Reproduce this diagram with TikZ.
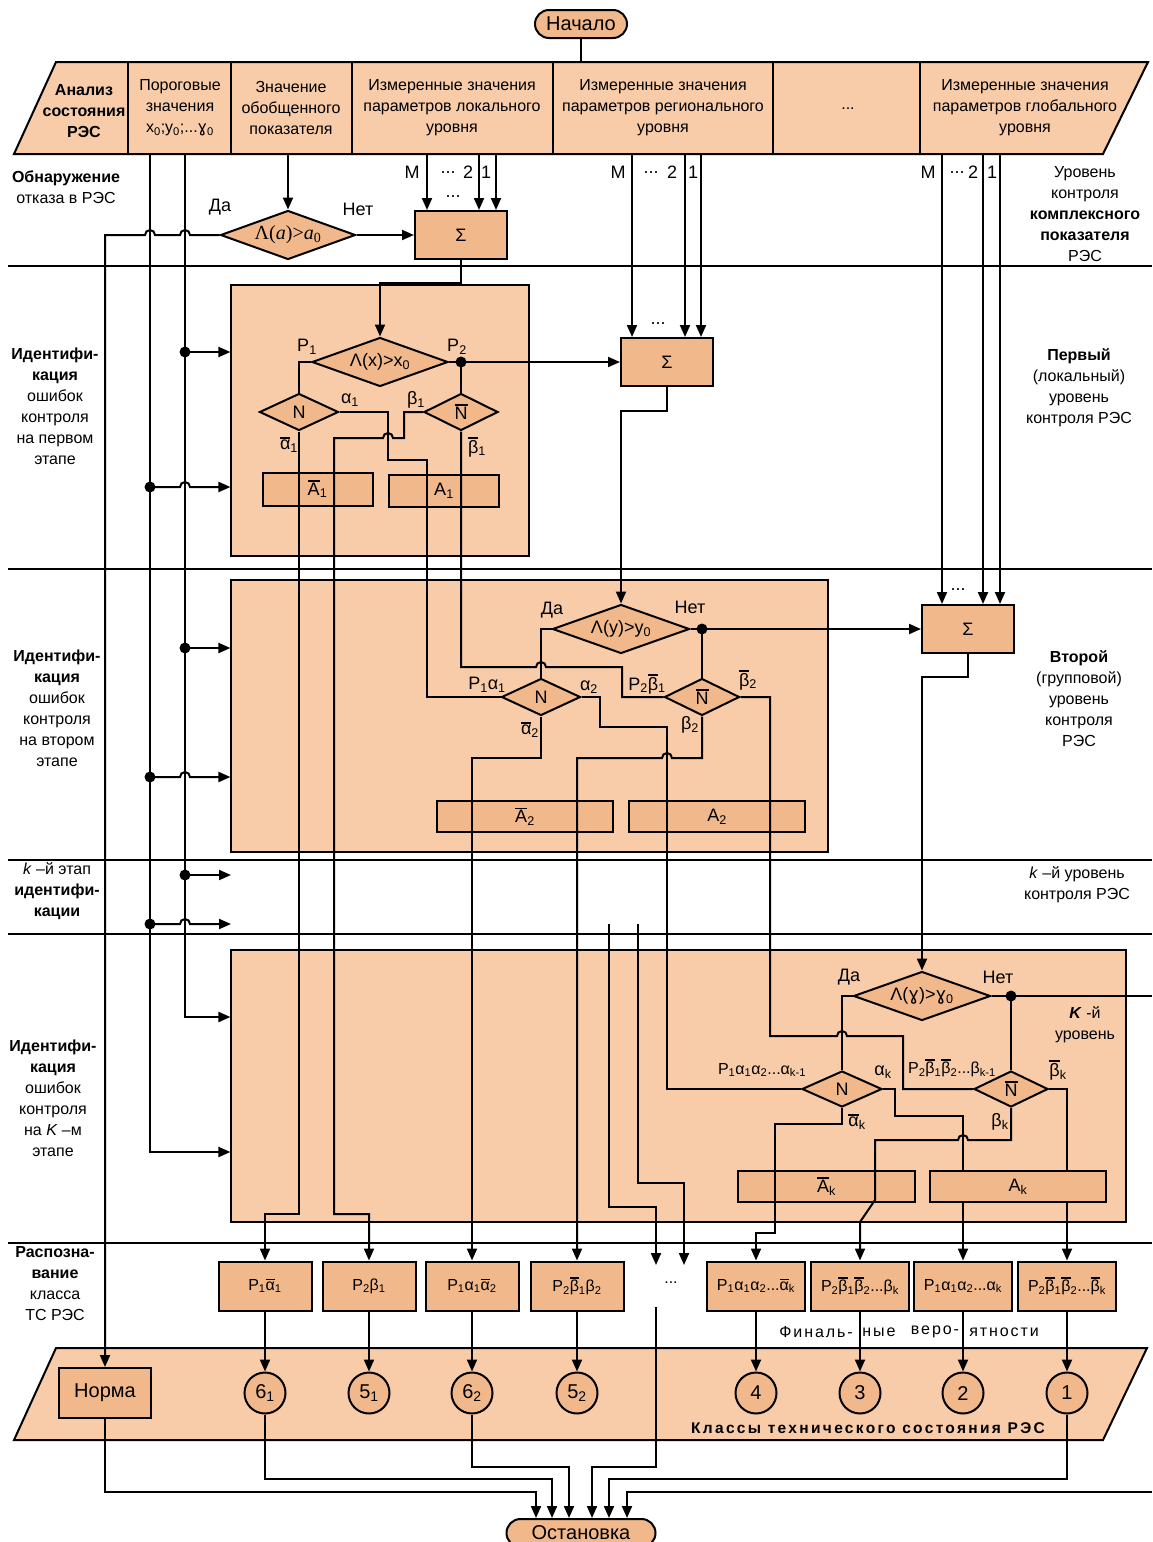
\documentclass[tikz,border=0pt]{standalone}
\usepackage{fontspec}
\setmainfont{Liberation Sans}
\newfontfamily\serifface{Liberation Serif}
\newfontfamily\gamface{DejaVu Sans}
\usetikzlibrary{shapes.geometric,arrows.meta}
\definecolor{paleor}{RGB}{248,204,168}
\definecolor{deepor}{RGB}{241,184,139}
\newcommand\sbs[1]{\textsubscript{#1}}
\newcommand\ovb[1]{\vbox{\hrule height 1.4pt\kern 1.3pt\hbox{#1}}}
\newcommand\lgam{{\gamface ɣ}}
\newcommand\fsz[2]{\fontsize{#1}{#2}\selectfont}
\begin{document}
\begin{tikzpicture}[x=1pt,y=-1pt,
  wire/.style={line width=2pt},
  arr/.style={line width=2pt,-{Triangle[length=12pt,width=10pt]}},
  darkbox/.style={draw,line width=2pt,fill=deepor,inner sep=0pt},
  panel/.style={draw,line width=1.1pt,fill=paleor,inner sep=0pt},
  rhomb/.style={diamond,draw,line width=2pt,fill=deepor,inner sep=0pt,aspect=2.8,font=\fsz{18}{20}},
  jdot/.style={circle,fill=black,inner sep=0pt,minimum size=11pt},
  sepline/.style={line width=1.1pt},
  txt/.style={inner sep=0pt,align=center,font=\fsz{16}{21}},
  plab/.style={inner sep=0pt,font=\fsz{18}{20}},
  slab/.style={inner sep=0pt,font=\fsz{16}{18}},
  term/.style={draw,line width=2pt,fill=deepor,rounded corners=14pt,inner sep=0pt,minimum height=28pt,font=\fsz{20}{22}},
  circ/.style={circle,draw,line width=2pt,fill=deepor,minimum size=41pt,inner sep=0pt,font=\fsz{20}{22}},
  rbox/.style={darkbox,minimum height=49pt,font=\fsz{16}{18}},
  abox/.style={darkbox,minimum height=31pt,font=\fsz{18}{20}},
  sbox/.style={darkbox,minimum width=92pt,minimum height=48pt,font=\fsz{18}{20}}
]
\useasboundingbox (0,0) rectangle (1152,1542);

% ---------- band separators ----------
\foreach \yy in {266,569,860,934,1243} \draw[sepline] (8,\yy) -- (1152,\yy);

% ---------- input data band ----------
\draw[line width=2pt,fill=paleor] (56,62) -- (1148,62) -- (1103,154) -- (14,154) -- cycle;
\foreach \xx in {128,231,352,553,773,920} \draw[line width=2pt] (\xx,62) -- (\xx,154);
\node[txt] (h0) at (84,111) {\textbf{Анализ}\\\textbf{состояния}\\\textbf{РЭС}};
\node[txt] (h1) at (180,108) {Пороговые\\значения\\x\sbs{0};y\sbs{0};...\lgam\sbs{0}};
\node[txt] (h2) at (291,108) {Значение\\обобщенного\\показателя};
\node[txt] (h3) at (452,108) {Измеренные значения\\параметров локального\\уровня};
\node[txt] (h4) at (663,108) {Измеренные значения\\параметров регионального\\уровня};
\node[txt] (h5) at (848,109) {...};
\node[txt] (h6) at (1025,108) {Измеренные значения\\параметров глобального\\уровня};

% ---------- classes band ----------
\draw[line width=2pt,fill=paleor] (56,1348) -- (1147,1348) -- (1103,1440) -- (14,1440) -- cycle;

% ---------- stage panels ----------
\node[panel,minimum width=298pt,minimum height=271pt] (st1) at (380,420.5) {};
\node[panel,minimum width=597pt,minimum height=272pt] (st2) at (529.5,716) {};
\node[panel,minimum width=895pt,minimum height=272pt] (stK) at (678.5,1086) {};

% ---------- side captions ----------
\node[txt] (cl1) at (66,187) {\textbf{Обнаружение}\\отказа в РЭС};
\node[txt] (cl2) at (55,406) {\textbf{Идентифи-}\\\textbf{кация}\\ошибок\\контроля\\на первом\\этапе};
\node[txt] (cl3) at (57,708) {\textbf{Идентифи-}\\\textbf{кация}\\ошибок\\контроля\\на втором\\этапе};
\node[txt] (cl4) at (57,891) {\textit{k} –й этап\\\textbf{идентифи-}\\\textbf{кации}};
\node[txt] (cl5) at (53,1098) {\textbf{Идентифи-}\\\textbf{кация}\\ошибок\\контроля\\на \textit{K} –м\\этапе};
\node[txt] (cl6) at (55,1284) {\textbf{Распозна-}\\\textbf{вание}\\класса\\ТС РЭС};
\node[txt] (cr1) at (1085,214) {Уровень\\контроля\\\textbf{комплексного}\\\textbf{показателя}\\РЭС};
\node[txt] (cr2) at (1079,388) {\textbf{Первый}\\(локальный)\\уровень\\контроля РЭС};
\node[txt] (cr3) at (1079,699) {\textbf{Второй}\\(групповой)\\уровень\\контроля\\РЭС};
\node[txt] (cr4) at (1077,885) {\textit{k} –й уровень\\контроля РЭС};
\node[txt] (cr5) at (1085,1025) {\textbf{\textit{K}} -й\\уровень};

% ---------- decision outcome boxes (under the wires) ----------
\node[abox,minimum width=110pt,minimum height=33pt] (a1b) at (317.5,489) {\ovb{A}\sbs{1}};
\node[abox,minimum width=110pt,minimum height=32pt] (a1) at (444,491) {A\sbs{1}};
\node[abox,minimum width=176pt] (a2b) at (525,816.5) {\ovb{A}\sbs{2}};
\node[abox,minimum width=176pt] (a2) at (717,816.5) {A\sbs{2}};
\node[abox,minimum width=177pt] (aKb) at (826.5,1186.5) {\ovb{A}\sbs{k}};

% ---------- terminals, adders, rhombs, result boxes ----------
\node[term,minimum width=92pt] (start) at (581,24) {Начало};
\node[term,minimum width=149pt] (stop) at (581,1533) {Остановка};
\node[sbox] (s1) at (461,235) {Σ};
\node[sbox] (s2) at (667,362) {Σ};
\node[sbox] (s3) at (968,629) {Σ};
\node[rhomb,minimum width=135pt,minimum height=49pt,font=\fsz{20}{22}] (d0) at (288,235) {\serifface Λ(\textit{a})>\textit{a}\sbs{0}};
\node[rhomb,minimum width=136pt,minimum height=49pt] (d1) at (380,362) {Λ(x)>x\sbs{0}};
\node[rhomb,minimum width=79pt,minimum height=37pt] (n1) at (299,412) {N};
\node[rhomb,minimum width=74pt,minimum height=37pt] (nb1) at (461,412) {\ovb{N}};
\node[rhomb,minimum width=137pt,minimum height=49pt] (d2) at (621,629) {Λ(y)>y\sbs{0}};
\node[rhomb,minimum width=79pt,minimum height=37pt] (n2) at (541,697) {N};
\node[rhomb,minimum width=75pt,minimum height=37pt] (nb2) at (702,697) {\ovb{N}};
\node[rhomb,minimum width=137pt,minimum height=49pt] (dK) at (922,996) {Λ(\lgam)>\lgam\sbs{0}};
\node[rhomb,minimum width=80pt,minimum height=36pt] (nK) at (842,1089) {N};
\node[rhomb,minimum width=74pt,minimum height=36pt] (nbK) at (1011,1089) {\ovb{N}};
\node[darkbox,minimum width=92pt,minimum height=50pt,font=\fsz{20}{22}] (norma) at (105,1393) {Норма};

\node[rbox,minimum width=93pt] (r1) at (265,1286) {P\sbs{1}\ovb{α}\sbs{1}};
\node[rbox,minimum width=93pt] (r2) at (369,1286) {P\sbs{2}β\sbs{1}};
\node[rbox,minimum width=93pt] (r3) at (472,1286) {P\sbs{1}α\sbs{1}\ovb{α}\sbs{2}};
\node[rbox,minimum width=93pt] (r4) at (577,1286) {P\sbs{2}\ovb{β}\sbs{1}β\sbs{2}};
\node[slab] (rdots) at (671,1283) {...};
\node[rbox,minimum width=98pt] (r5) at (756,1286) {P\sbs{1}α\sbs{1}α\sbs{2}...\ovb{α}\sbs{k}};
\node[rbox,minimum width=98pt] (r6) at (860,1286) {P\sbs{2}\ovb{β}\sbs{1}\ovb{β}\sbs{2}...β\sbs{k}};
\node[rbox,minimum width=98pt] (r7) at (963,1286) {P\sbs{1}α\sbs{1}α\sbs{2}...α\sbs{k}};
\node[rbox,minimum width=98pt] (r8) at (1067,1286) {P\sbs{2}\ovb{β}\sbs{1}\ovb{β}\sbs{2}...\ovb{β}\sbs{k}};

\node[circ] (c61) at (265,1393) {6\sbs{1}};
\node[circ] (c51) at (369,1393) {5\sbs{1}};
\node[circ] (c62) at (472,1393) {6\sbs{2}};
\node[circ] (c52) at (577,1393) {5\sbs{2}};
\node[circ] (c4) at (756,1393) {4};
\node[circ] (c3) at (860,1393) {3};
\node[circ] (c2) at (963,1393) {2};
\node[circ] (c1) at (1067,1393) {1};

\node[slab,font=\fsz{16}{18}\addfontfeature{LetterSpace=12}] (f1) at (816,1332) {Финаль-};
\node[slab,font=\fsz{16}{18}\addfontfeature{LetterSpace=12}] (f2) at (879,1332) {ные};
\node[slab,font=\fsz{16}{18}\addfontfeature{LetterSpace=12}] (f3) at (935,1332) {веро-};
\node[slab,font=\fsz{16}{18}\addfontfeature{LetterSpace=12}] (f4) at (1004,1332) {ятности};
\node[slab,font=\bfseries\fsz{15.5}{18}\addfontfeature{LetterSpace=15}] (cls) at (868,1428) {Классы технического состояния РЭС};

% ---------- tap points ----------
\coordinate (hN) at (581,62);
\coordinate (tG) at (288,154);
\coordinate (kA) at (231,875);
\coordinate (kB) at (231,924);
\coordinate (kC) at (609,924);
\coordinate (kD) at (638,924);
\coordinate (kE) at (656,1265);
\coordinate (kF) at (684,1265);
\coordinate (kG) at (656,1307);
\coordinate (outK) at (1152,996);
\coordinate (inR) at (1152,1492);

% ---------- wires: header ----------
\draw[wire] (start.south) -- (hN);
\draw[arr] (tG) -- (d0.north);
\draw[arr] (d0.east) -- (s1.west);
\draw[arr] (d0.west) -- (190,235) arc[start angle=0,end angle=-180,radius=5] -- (155,235) arc[start angle=0,end angle=-180,radius=5] -- (105,235) -- (norma.north);
\foreach \xx in {427,479,496} \draw[arr] (\xx,154) -- (\xx,0 |- s1.north);
\foreach \xx in {632,685,701} \draw[arr] (\xx,154) -- (\xx,0 |- s2.north);
\foreach \xx in {942,983,1000} \draw[arr] (\xx,154) -- (\xx,0 |- s3.north);
\node[plab] (m1) at (412,172) {M};
\node[plab] (e1) at (448,173) {...};
\node[plab] (t1) at (468,172) {2};
\node[plab] (o1) at (486,172) {1};
\node[plab] (u1) at (453,197) {...};
\node[plab] (m2) at (618,172) {M};
\node[plab] (e2) at (651,173) {...};
\node[plab] (t2) at (672,172) {2};
\node[plab] (o2) at (693,172) {1};
\node[plab] (u2) at (658,324) {...};
\node[plab] (m3) at (928,172) {M};
\node[plab] (e3) at (957,173) {...};
\node[plab] (t3) at (973,172) {2};
\node[plab] (o3) at (992,172) {1};
\node[plab] (u3) at (958,590) {...};

% ---------- threshold rails ----------
\draw[arr] (185,154) -- (185,1017) -- (stK.west |- 185,1017);
\draw[arr] (150,154) -- (150,1152) -- (stK.west |- 150,1152);
\node[jdot] (j1) at (185,352) {};
\node[jdot] (j2) at (150,487) {};
\node[jdot] (j3) at (185,648) {};
\node[jdot] (j4) at (150,777) {};
\node[jdot] (j5) at (185,875) {};
\node[jdot] (j6) at (150,924) {};
\draw[arr] (j1.center) -- (j1.center -| st1.west);
\draw[arr] (j2.center) -- (180,487) arc[start angle=180,end angle=360,radius=5] -- (j2.center -| st1.west);
\draw[arr] (j3.center) -- (j3.center -| st2.west);
\draw[arr] (j4.center) -- (180,777) arc[start angle=180,end angle=360,radius=5] -- (j4.center -| st2.west);
\draw[arr] (j5.center) -- (kA);
\draw[arr] (j6.center) -- (180,924) arc[start angle=180,end angle=360,radius=5] -- (kB);

% ---------- first stage ----------
\draw[arr] (s1.south) -- (461,283) -- (380,283) -- (d1.north);
\draw[wire] (d1.west) -- (299,362) -- (n1.north);
\node[jdot] (p2) at (461,362) {};
\draw[wire] (d1.east) -- (p2.center);
\draw[arr] (p2.center) -- (s2.west);
\draw[wire] (p2.center) -- (nb1.north);
\draw[arr] (n1.south) -- (299,1214) -- (265,1214) -- (r1.north);
\draw[wire] (n1.east) -- (388,412) -- (388,460) -- (427,460) -- (427,697) -- (n2.west);
\draw[arr] (nb1.west) -- (404,412) -- (404,438) -- (393,438) arc[start angle=0,end angle=-180,radius=5] -- (334,438) -- (334,1214) -- (369,1214) -- (r2.north);
\draw[wire] (nb1.south) -- (461,667) -- (536,667) arc[start angle=180,end angle=360,radius=5] -- (622,667) -- (622,697) -- (nb2.west);
\node[plab] (lp1) at (307,347) {P\sbs{1}};
\node[plab] (lp2) at (457,347) {P\sbs{2}};
\node[plab] (la1) at (350,400) {α\sbs{1}};
\node[plab] (lb1) at (416,400) {β\sbs{1}};
\node[plab] (la1b) at (289,445) {\ovb{α}\sbs{1}};
\node[plab] (lb1b) at (477,447) {\ovb{β}\sbs{1}};

% ---------- second stage ----------
\draw[arr] (s2.south) -- (667,411) -- (621,411) -- (d2.north);
\draw[wire] (d2.west) -- (541,629) -- (n2.north);
\node[jdot] (q2) at (702,629) {};
\draw[wire] (d2.east) -- (q2.center);
\draw[arr] (q2.center) -- (s3.west);
\draw[wire] (q2.center) -- (nb2.north);
\draw[arr] (n2.south) -- (541,758) -- (472,758) -- (r3.north);
\draw[wire] (n2.east) -- (600,697) -- (600,727) -- (667,727) -- (667,1089) -- (nK.west);
\draw[arr] (nb2.south) -- (702,758) -- (672,758) arc[start angle=0,end angle=-180,radius=5] -- (577,758) -- (r4.north);
\draw[wire] (nb2.east) -- (770,697) -- (770,1036) -- (837,1036) arc[start angle=180,end angle=360,radius=5] -- (903,1036) -- (903,1089) -- (nbK.west);
\node[plab] (ly2) at (552,610) {Да};
\node[plab] (ln2) at (690,607) {Нет};
\node[plab] (lpa) at (487,685) {P\sbs{1}α\sbs{1}};
\node[plab] (la2) at (589,687) {α\sbs{2}};
\node[plab] (lpb) at (647,684) {P\sbs{2}\ovb{β}\sbs{1}};
\node[plab] (lb2b) at (748,680) {\ovb{β}\sbs{2}};
\node[plab] (la2b) at (530,730) {\ovb{α}\sbs{2}};
\node[plab] (lb2) at (690,725) {β\sbs{2}};

% ---------- k-th stage ----------
\draw[arr] (s3.south) -- (968,677) -- (922,677) -- (dK.north);
\draw[wire] (dK.west) -- (842,996) -- (nK.north);
\node[jdot] (qK) at (1011,996) {};
\draw[wire] (dK.east) -- (qK.center);
\draw[wire] (qK.center) -- (outK);
\draw[wire] (qK.center) -- (nbK.north);
\draw[arr] (nK.south) -- (842,1124) -- (775,1124) -- (775,1233) -- (756,1233) -- (r5.north);
\draw[arr] (nK.east) -- (895,1089) -- (895,1116) -- (963,1116) -- (r7.north);
\draw[arr] (nbK.south) -- (1011,1140) -- (968,1140) arc[start angle=0,end angle=-180,radius=5] -- (875,1140) -- (875,1200) -- (860,1222) -- (r6.north);
\draw[arr] (nbK.east) -- (1067,1089) -- (r8.north);
\draw[arr] (kC) -- (609,1207) -- (656,1207) -- (kE);
\draw[arr] (kD) -- (638,1183) -- (684,1183) -- (kF);
\node[abox,minimum width=176pt] (aK) at (1018,1186.5) {A\sbs{k}};
\node[plab] (lyk) at (849,977) {Да};
\node[plab] (lnk) at (998,977) {Нет};
\node[slab] (lpak) at (762,1070) {P\sbs{1}α\sbs{1}α\sbs{2}...α\sbs{k-1}};
\node[plab] (lak) at (883,1072) {α\sbs{k}};
\node[slab] (lpbk) at (952,1068) {P\sbs{2}\ovb{β}\sbs{1}\ovb{β}\sbs{2}...β\sbs{k-1}};
\node[plab] (lbkb) at (1058,1070) {\ovb{β}\sbs{k}};
\node[plab] (lakb) at (857,1122) {\ovb{α}\sbs{k}};
\node[plab] (lbk) at (1000,1122) {β\sbs{k}};

% ---------- top rhomb labels ----------
\node[plab] (ly0) at (220,207) {Да};
\node[plab] (ln0) at (358,209) {Нет};

% ---------- results to classes ----------
\foreach \r/\c in {r1/c61,r2/c51,r3/c62,r4/c52,r5/c4,r6/c3,r7/c2,r8/c1}
  \draw[arr] (\r.south) -- (\c.north);

% ---------- classes to stop ----------
\draw[arr] (norma.south) -- (105,1492) -- (536,1492) -- (536,0 |- stop.north);
\draw[arr] (c61.south) -- (265,1479) -- (552,1479) -- (552,0 |- stop.north);
\draw[arr] (c62.south) -- (472,1467) -- (569,1467) -- (569,0 |- stop.north);
\draw[arr] (kG) -- (656,1467) -- (592,1467) -- (592,0 |- stop.north);
\draw[arr] (c1.south) -- (1067,1479) -- (609,1479) -- (609,0 |- stop.north);
\draw[arr] (inR) -- (627,1492) -- (627,0 |- stop.north);
\end{tikzpicture}
\end{document}
